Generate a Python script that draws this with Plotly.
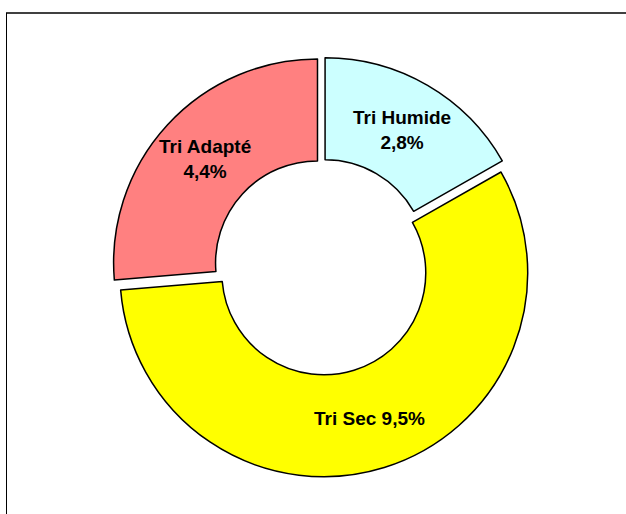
import math
import plotly.graph_objects as go

categories = ["Tri Humide", "Tri Sec", "Tri Adapté"]
values = [2.8, 9.5, 4.4]
value_labels = ["2,8%", "9,5%", "4,4%"]
colors = ["#CCFFFF", "#FFFF00", "#FF8080"]

texts = [
    f"{categories[0]}<br>{value_labels[0]}",
    f"{categories[1]} {value_labels[1]}",
    f"{categories[2]}<br>{value_labels[2]}",
]

W, H = 626, 514
# pie box in pixels
bx0, bx1 = 112, 532
by0, by1 = 57, 477
HOLE = 0.5
PULL = 0.03

fig = go.Figure(go.Pie(
    labels=categories,
    values=values,
    textinfo="none",
    hoverinfo="label+value",
    sort=False,
    direction="clockwise",
    rotation=0,
    hole=HOLE,
    pull=[PULL] * len(values),
    marker=dict(colors=colors, line=dict(color="black", width=1.5)),
    domain=dict(x=[bx0 / W, bx1 / W], y=[1 - by1 / H, 1 - by0 / H]),
    showlegend=False,
))

# label positions derived from the slice angles
cx = (bx0 + bx1) / 2
cy = (by0 + by1) / 2
R = (bx1 - bx0) / 2 / (1 + PULL)
rl = R * (1 + HOLE) / 2 + R * PULL
total = sum(values)
annotations = []
cum = 0
for v, t in zip(values, texts):
    theta = 2 * math.pi * (cum + v / 2) / total
    cum += v
    px = cx + rl * math.sin(theta)
    py = cy - rl * math.cos(theta)
    annotations.append(dict(
        x=px / W, y=1 - py / H, xref="paper", yref="paper",
        text=t, showarrow=False, xanchor="center", yanchor="middle",
        font=dict(family="Liberation Sans, Arial, sans-serif", size=19, color="black", weight="bold"),
    ))

fig.update_layout(
    width=W, height=H,
    margin=dict(l=0, r=0, t=0, b=0),
    paper_bgcolor="white",
    plot_bgcolor="white",
    annotations=annotations,
    shapes=[
        dict(type="line", xref="paper", yref="paper", x0=6 / W, x1=1.02, y0=1 - 13 / H, y1=1 - 13 / H,
             line=dict(color="#404040", width=2)),
        dict(type="line", xref="paper", yref="paper", x0=6.5 / W, x1=6.5 / W, y0=-0.02, y1=1 - 13 / H,
             line=dict(color="black", width=1)),
    ],
)

fig.write_html("out.html", config={"displayModeBar": False},
               post_script="document.body.style.margin='0px';")
